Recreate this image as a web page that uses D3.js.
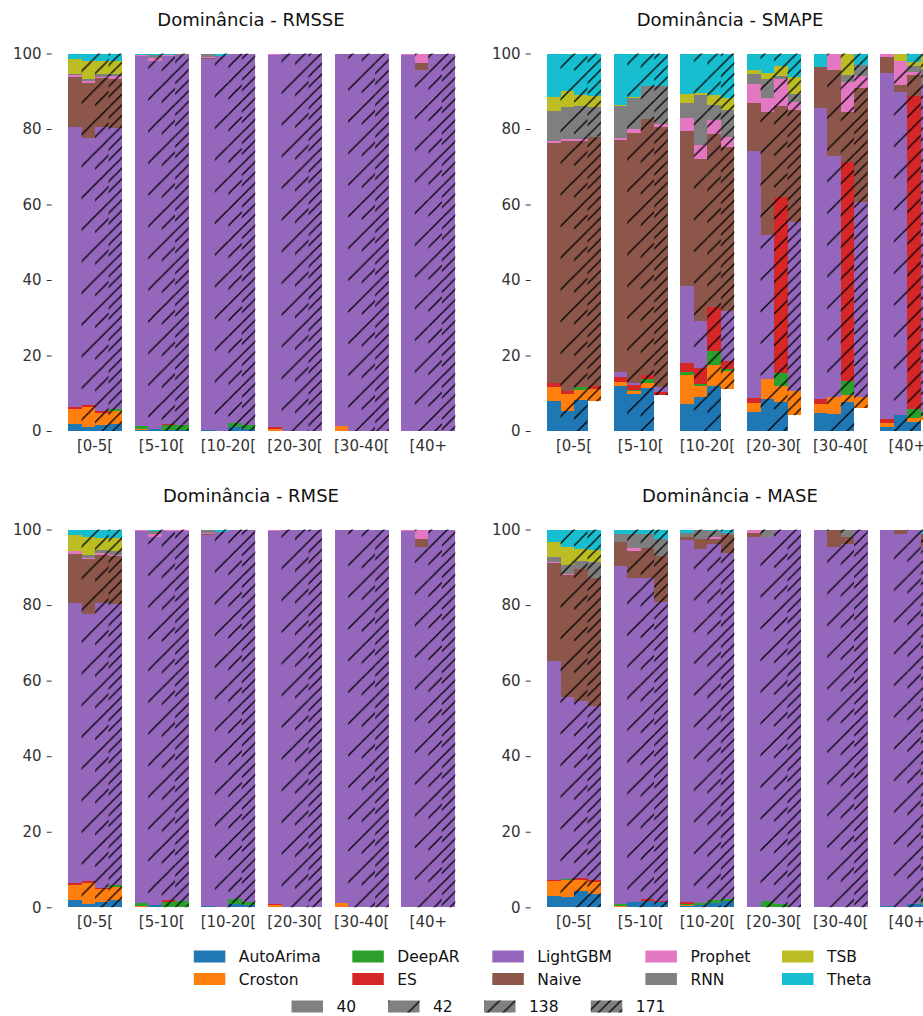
<!DOCTYPE html>
<html>
<head>
<meta charset="utf-8">
<script src="https://cdn.jsdelivr.net/npm/d3@7"></script>
<style>
  html, body { margin: 0; padding: 0; background: #fff; }
  svg { display: block; font-family: "DejaVu Sans", sans-serif; }
</style>
</head>
<body>
<svg id="chart" width="923" height="1016"></svg>
<script>
// Size classes of the series (x groups), forecast horizons (sub-bars) and models (stack order)
const groups = ["[0-5[", "[5-10[", "[10-20[", "[20-30[", "[30-40[", "[40+"];
const horizons = ["40", "42", "138", "171"];
const models = ["AutoArima", "Croston", "DeepAR", "ES", "LightGBM", "Naive", "Prophet", "RNN", "TSB", "Theta"];
const yTicks = [0, 20, 40, 60, 80, 100];

// Share (%) of series where each model is best, per size class, per horizon.
// Each row: AutoArima, Croston, DeepAR, ES, LightGBM, Naive, Prophet, RNN, TSB, Theta
const rmsse = [
  [[1.8, 4.0, 0, 0.5, 74.3, 13.3, 0.3, 0.4, 3.9, 1.5],
   [1.0, 5.3, 0, 0.6, 70.8, 14.6, 0.5, 0.4, 4.9, 1.9],
   [1.5, 3.3, 0, 0.4, 75.2, 13.2, 0.3, 0.7, 3.4, 2.0],
   [1.8, 3.6, 0.4, 0, 74.4, 13.1, 0.7, 0.7, 3.3, 2.0]],
  [[0.2, 0.2, 0.8, 0, 98.1, 0, 0.3, 0, 0, 0.4],
   [0.5, 0, 0, 0, 97.6, 0, 0.8, 0.6, 0, 0.5],
   [0.2, 0, 1.3, 0.3, 97.6, 0, 0.2, 0, 0, 0.4],
   [0.2, 0, 1.5, 0, 97.9, 0, 0.1, 0.3, 0, 0]],
  [[0.3, 0, 0, 0, 98.2, 0.4, 0.3, 0.8, 0, 0],
   [0, 0, 0, 0, 99.3, 0, 0, 0, 0, 0.7],
   [1.0, 0, 1.2, 0, 97.8, 0, 0, 0, 0, 0],
   [0.5, 0, 1.0, 0, 98.5, 0, 0, 0, 0, 0]],
  [[0, 0.5, 0, 0.5, 98.6, 0, 0.4, 0, 0, 0],
   [0, 0, 0, 0, 100, 0, 0, 0, 0, 0],
   [0, 0, 0, 0, 100, 0, 0, 0, 0, 0],
   [0, 0, 0, 0, 100, 0, 0, 0, 0, 0]],
  [[0, 1.2, 0, 0, 98.8, 0, 0, 0, 0, 0],
   [0, 0, 0, 0, 100, 0, 0, 0, 0, 0],
   [0, 0, 0, 0, 100, 0, 0, 0, 0, 0],
   [0, 0, 0, 0, 100, 0, 0, 0, 0, 0]],
  [[0, 0, 0, 0, 99.5, 0, 0.5, 0, 0, 0],
   [0, 0, 0, 0, 95.5, 2.0, 2.5, 0, 0, 0],
   [0, 0, 0, 0, 100, 0, 0, 0, 0, 0],
   [0, 0, 0, 0, 100, 0, 0, 0, 0, 0]]
];

const smape = [
  [[7.9, 3.8, 0, 1.0, 0, 63.7, 0.4, 8.0, 3.7, 11.5],
   [5.3, 4.6, 0, 0.7, 0, 66.3, 0.4, 8.5, 4.3, 9.9],
   [8.2, 2.6, 0.8, 0, 0, 65.3, 0.4, 8.8, 2.9, 11.0],
   [7.9, 3.2, 0, 0.8, 0, 66.1, 0, 7.8, 2.9, 11.3]],
  [[11.9, 1.1, 0, 1.3, 1.3, 61.5, 0.5, 8.6, 0.1, 13.7],
   [9.8, 0.8, 0.3, 1.3, 0.5, 66.2, 1.1, 8.2, 0.3, 11.5],
   [11.4, 1.3, 1.1, 1.0, 0, 67.8, 0, 8.8, 0, 8.6],
   [9.5, 0, 0, 0.8, 1.3, 68.9, 0.8, 10.1, 0, 8.6]],
  [[7.2, 7.6, 0.8, 2.4, 20.4, 41.1, 3.4, 4.0, 2.3, 10.8],
   [9.1, 2.9, 0.5, 4.2, 12.4, 43.0, 3.7, 13.2, 0.5, 10.5],
   [11.9, 5.6, 3.7, 11.6, 0, 45.9, 3.7, 4.0, 2.5, 11.1],
   [11.1, 4.8, 0.5, 2.1, 13.3, 43.4, 2.7, 7.1, 3.2, 11.8]],
  [[5.0, 2.4, 0, 1.3, 65.5, 12.7, 5.0, 2.7, 1.0, 4.4],
   [8.5, 5.3, 0, 0, 38.1, 32.6, 3.7, 5.0, 1.6, 5.2],
   [7.7, 4.2, 3.5, 46.6, 0, 24.1, 7.1, 0.8, 2.7, 3.3],
   [4.2, 6.4, 0, 0, 44.8, 29.6, 2.2, 2.1, 4.5, 6.2]],
  [[4.8, 2.4, 0, 1.3, 77.1, 10.8, 0, 0, 0, 3.6],
   [4.5, 4.5, 0, 0, 63.8, 22.8, 4.4, 0, 0, 0],
   [7.7, 1.8, 3.7, 58.1, 0, 13.2, 7.9, 1.9, 5.7, 0],
   [6.1, 2.9, 0, 0, 51.7, 30.2, 3.1, 3.0, 0, 3.0]],
  [[1.1, 1.0, 0, 1.1, 91.6, 4.3, 0.9, 0, 0, 0],
   [4.2, 0, 0, 0, 85.6, 1.9, 6.3, 0, 2.0, 0],
   [2.4, 1.0, 2.4, 82.9, 0, 5.6, 0.7, 1.7, 1.1, 2.2],
   [3.0, 1.0, 1.0, 0, 87.0, 0, 0, 4.0, 4.0, 0]]
];

const rmse = [
  [[1.8, 4.0, 0, 0.5, 74.2, 13.1, 0.7, 0, 4.2, 1.5],
   [1.0, 5.3, 0, 0.6, 70.7, 14.5, 0.3, 0.8, 4.8, 2.0],
   [1.5, 3.3, 0, 0.4, 75.3, 12.7, 0.6, 0.8, 3.2, 2.2],
   [1.8, 3.6, 0.4, 0, 74.4, 12.8, 0.3, 1.0, 3.5, 2.2]],
  [[0.2, 0.2, 0.8, 0, 98.3, 0, 0.5, 0, 0, 0],
   [0.5, 0, 0, 0, 97.5, 0, 0.8, 0.8, 0, 0.4],
   [0.2, 0, 1.3, 0.3, 97.9, 0, 0.3, 0, 0, 0],
   [0.2, 0, 1.5, 0, 97.9, 0, 0.4, 0, 0, 0]],
  [[0.3, 0, 0, 0, 98.2, 0.4, 0.3, 0.8, 0, 0],
   [0, 0, 0, 0, 99.4, 0, 0, 0, 0, 0.6],
   [1.0, 0, 1.2, 0, 97.8, 0, 0, 0, 0, 0],
   [0.5, 0, 1.0, 0, 98.5, 0, 0, 0, 0, 0]],
  [[0, 0.5, 0, 0.5, 98.6, 0, 0.4, 0, 0, 0],
   [0, 0, 0, 0, 100, 0, 0, 0, 0, 0],
   [0, 0, 0, 0, 100, 0, 0, 0, 0, 0],
   [0, 0, 0, 0, 100, 0, 0, 0, 0, 0]],
  [[0, 1.2, 0, 0, 98.8, 0, 0, 0, 0, 0],
   [0, 0, 0, 0, 100, 0, 0, 0, 0, 0],
   [0, 0, 0, 0, 100, 0, 0, 0, 0, 0],
   [0, 0, 0, 0, 100, 0, 0, 0, 0, 0]],
  [[0, 0, 0, 0, 99.5, 0, 0.5, 0, 0, 0],
   [0, 0, 0, 0, 95.5, 2.0, 2.5, 0, 0, 0],
   [0, 0, 0, 0, 100, 0, 0, 0, 0, 0],
   [0, 0, 0, 0, 100, 0, 0, 0, 0, 0]]
];

const mase = [
  [[3.0, 4.0, 0, 0.2, 58.0, 25.9, 0.2, 1.4, 3.9, 3.4],
   [2.7, 4.5, 0.3, 0, 48.1, 32.3, 0.3, 2.4, 4.7, 4.7],
   [4.3, 2.9, 0, 0.6, 46.8, 34.9, 0, 2.1, 3.2, 5.2],
   [3.5, 3.2, 0, 0.5, 46.1, 33.8, 0, 4.2, 3.2, 5.5]],
  [[0.2, 0.2, 0.4, 0, 89.5, 6.3, 0, 2.2, 0, 1.2],
   [1.4, 0, 0, 0, 85.7, 7.2, 0.8, 3.7, 0, 1.2],
   [1.6, 0, 0, 0.5, 85.0, 8.0, 0, 3.7, 0, 1.2],
   [1.4, 0, 0, 0.3, 79.1, 12.1, 0, 4.5, 0, 2.6]],
  [[0.3, 0.4, 0.3, 0.4, 95.8, 0.8, 0, 1.2, 0, 0.8],
   [0.5, 0, 0.6, 0, 93.7, 2.6, 0, 2.6, 0, 0],
   [1.2, 0, 0.8, 0, 94.1, 1.3, 0.5, 1.8, 0, 0.3],
   [1.6, 0, 0.5, 0, 91.6, 4.8, 0, 0.7, 0, 0.8]],
  [[0, 0, 0, 0, 97.9, 1.3, 0.8, 0, 0, 0],
   [0, 0, 1.7, 0, 96.2, 0, 0, 2.1, 0, 0],
   [0, 0, 0.8, 0, 99.2, 0, 0, 0, 0, 0],
   [0, 0, 0, 0, 100, 0, 0, 0, 0, 0]],
  [[0, 0, 0, 0, 100, 0, 0, 0, 0, 0],
   [0, 0, 0, 0, 95.3, 4.7, 0, 0, 0, 0],
   [0, 0, 0, 0, 96.1, 1.8, 0, 2.1, 0, 0],
   [0, 0, 0, 0, 100, 0, 0, 0, 0, 0]],
  [[0.4, 0, 0, 0, 99.6, 0, 0, 0, 0, 0],
   [0, 0, 0, 0, 98.8, 1.2, 0, 0, 0, 0],
   [1.0, 0, 0, 0, 99.0, 0, 0, 0, 0, 0],
   [0.5, 0, 2.0, 0, 92.8, 3.5, 0, 0, 0, 1.2]]
];

// tab10 palette, one colour per model
const color = d3.scaleOrdinal().domain(models).range(d3.schemeCategory10);
// hatch density per horizon (number of "/" strokes)
const hatchDensity = d3.scaleOrdinal().domain(horizons).range([0, 1, 2, 3]);

const panels = [
  { title: "Dominância - RMSSE", data: rmsse, col: 0, row: 0, skip: [] },
  { title: "Dominância - SMAPE", data: smape, col: 1, row: 0, skip: [["AutoArima", "171"]] },
  { title: "Dominância - RMSE",  data: rmse,  col: 0, row: 1, skip: [] },
  { title: "Dominância - MASE",  data: mase,  col: 1, row: 1, skip: [] }
];

const svg = d3.select("#chart");
const defs = svg.append("defs");

// Diagonal hatch patterns anchored in page space so that all bars share the same phase
const hatchStep = 31.7, hatchPhase = 26;
[1, 2, 3].forEach(k => {
  const s = hatchStep / k;
  const p = defs.append("pattern")
    .attr("id", "hatch" + k)
    .attr("patternUnits", "userSpaceOnUse")
    .attr("width", s).attr("height", s)
    .attr("patternTransform", `translate(${hatchPhase},0)`);
  const segs = [[-1, 1, 1, -1], [0, s, s, 0], [s - 1, s + 1, s + 1, s - 1]];
  segs.forEach(([x1, y1, x2, y2]) => {
    p.append("line").attr("x1", x1).attr("y1", y1).attr("x2", x2).attr("y2", y2)
      .attr("stroke", "#000").attr("stroke-width", 1.25);
  });
});

const colLeft = [61.67, 540.67];
const panelW = 400;
const rowY = [[431, 53.5], [907.3, 529.5]];
const textCol = "#333";

panels.forEach(pn => {
  const left = colLeft[pn.col];
  const [y0, y1] = rowY[pn.row];
  const x = d3.scaleBand().domain(groups).range([left, left + panelW]).paddingInner(0.19).paddingOuter(0.095);
  const xh = d3.scaleBand().domain(horizons).range([0, x.bandwidth()]);
  const y = d3.scaleLinear().domain([0, 100]).range([y0, y1]);
  const g = svg.append("g");

  pn.data.forEach((grp, gi) => {
    grp.forEach((vals, hi) => {
      const hz = horizons[hi];
      let acc = 0;
      vals.forEach((v, mi) => {
        const lo = acc; acc += v;
        if (v <= 0) return;
        const m = models[mi];
        if (pn.skip.some(([sm, sh]) => sm === m && sh === hz)) return;
        const rx = x(groups[gi]) + xh(hz);
        const ry = y(acc), rh = y(lo) - y(acc);
        g.append("rect").attr("x", rx).attr("y", ry).attr("width", xh.bandwidth()).attr("height", rh)
          .attr("fill", color(m)).attr("shape-rendering", "crispEdges");
        const k = hatchDensity(hz);
        if (k > 0) {
          g.append("rect").attr("x", rx).attr("y", ry).attr("width", xh.bandwidth()).attr("height", rh)
            .attr("fill", `url(#hatch${k})`);
        }
      });
    });
  });

  // y axis: ticks and labels only
  const ay = svg.append("g").attr("transform", `translate(${left - 10},0)`)
    .call(d3.axisLeft(y).tickValues(yTicks).tickSize(5).tickPadding(5));
  ay.select(".domain").remove();
  ay.selectAll("line").attr("stroke", textCol).attr("stroke-width", 1);
  ay.selectAll("text").attr("fill", textCol).attr("font-size", 15).attr("font-family", "DejaVu Sans");

  // x labels
  svg.append("g").selectAll("text").data(groups).join("text")
    .attr("x", d => x(d) + x.bandwidth() / 2).attr("y", y0 + 20)
    .attr("text-anchor", "middle").attr("font-size", 15).attr("fill", textCol).text(d => d);

  // title
  svg.append("text").attr("x", left + 189.3).attr("y", y1 - 27.5)
    .attr("text-anchor", "middle").attr("font-size", 18).attr("fill", "#111").text(pn.title);
});

// Legend: models (2 rows x 5 columns)
const legCols = [193.8, 352.3, 492.3, 645.4, 782];
const legRows = [956.5, 979];
const patchW = 31.5, patchH = 12;
const lg = svg.append("g");
models.forEach((m, i) => {
  const cx = legCols[Math.floor(i / 2)], cy = legRows[i % 2];
  lg.append("rect").attr("x", cx).attr("y", cy - patchH / 2).attr("width", patchW).attr("height", patchH).attr("fill", color(m));
  lg.append("text").attr("x", cx + 45).attr("y", cy).attr("dy", "0.36em")
    .attr("font-size", 15.5).attr("fill", "#111").text(m);
});

// Legend: horizons as hatch styles
const hzCols = [291.5, 388, 484, 590.8];
horizons.forEach((h, i) => {
  const cx = hzCols[i], cy = 1006.5;
  lg.append("rect").attr("x", cx).attr("y", cy - patchH / 2).attr("width", patchW).attr("height", patchH).attr("fill", "#808080");
  const k = hatchDensity(h);
  if (k > 0) lg.append("rect").attr("x", cx).attr("y", cy - patchH / 2).attr("width", patchW).attr("height", patchH).attr("fill", `url(#hatch${k})`);
  lg.append("text").attr("x", cx + 45).attr("y", cy).attr("dy", "0.36em")
    .attr("font-size", 15.5).attr("fill", "#111").text(h);
});
</script>
</body>
</html>
